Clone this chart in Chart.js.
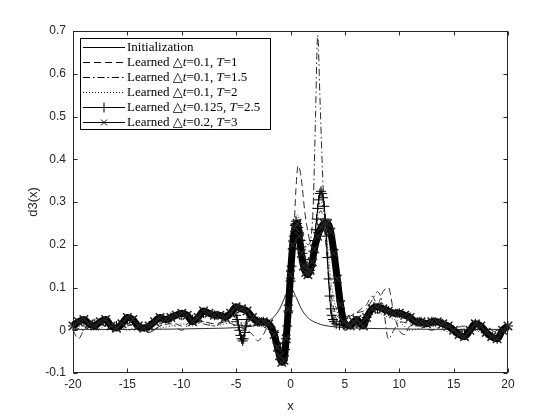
<!DOCTYPE html>
<html>
<head>
<meta charset="utf-8">
<script src="https://cdn.jsdelivr.net/npm/chart.js@4/dist/chart.umd.min.js"></script>
<style>
  body { margin: 0; background: #fff; }
</style>
</head>
<body>
<canvas id="d3Chart" width="560" height="420"></canvas>
<script>
// Values (d3(x) against x)
const xInit = [-20, -15, -10, -8, -6, -5, -4, -3, -2.5, -2, -1.5, -1, -0.5, 0, 0.5, 1, 1.5, 2, 2.5, 3, 4, 5, 6, 8, 10, 15, 20];
const yInit = [0.002, 0.002, 0.003, 0.004, 0.005, 0.006, 0.008, 0.012, 0.016, 0.022, 0.032, 0.05, 0.078, 0.1, 0.078, 0.05, 0.032, 0.022, 0.016, 0.012, 0.008, 0.006, 0.005, 0.004, 0.003, 0.002, 0.002];

// dashed, dt=0.1 T=1
const xT1 = [-20, -19.5, -19, -18, -17, -16, -15, -14, -13, -12, -11, -10, -9, -8, -7, -6, -5, -4, -3.5, -3,
  -2.5, -2, -1.5, -1, -0.6, -0.3, 0, 0.3, 0.5, 0.7, 0.9, 1.1, 1.3, 1.6, 1.9, 2.2, 2.5, 2.8, 3.1, 3.4,
  3.7, 4, 4.5, 5, 6, 6.5, 7, 7.5, 8, 8.5, 9, 9.5, 10, 10.5, 11, 12, 13, 14, 15, 16, 17, 18, 19, 20];
const yT1 = [0.0, -0.02, 0.0, 0.01, 0.015, 0.005, 0.01, 0.015, -0.005, 0.01, 0.02, 0.01, 0.02, 0.02, 0.015, 0.02, 0.01, 0.0, -0.01, -0.025,
  -0.01, 0.01, 0.01, -0.03, -0.06, -0.02, 0.08, 0.22, 0.33, 0.385, 0.37, 0.33, 0.28, 0.23, 0.2, 0.22, 0.26, 0.28, 0.24, 0.16,
  0.09, 0.05, 0.03, 0.03, 0.04, 0.05, 0.06, 0.08, 0.06, 0.09, 0.1, 0.04, 0.0, -0.01, 0.01, 0.01, 0.015, 0.01, 0.005, 0.01, 0.0, 0.005, -0.005, 0.01];

// dash-dot, dt=0.1 T=1.5
const xT15 = [-20, -19, -18, -17, -16, -15, -14, -13, -12, -11, -10, -9, -8, -7, -6, -5, -4, -3, -2, -1.5,
  -1, -0.5, 0, 0.5, 0.8, 1.2, 1.6, 1.9, 2.1, 2.3, 2.5, 2.7, 2.9, 3.1, 3.3, 3.5, 3.7, 4, 4.5, 5,
  6, 7, 7.5, 8, 8.5, 9, 9.5, 10, 11, 12, 13, 14, 15, 16, 17, 18, 19, 20];
const yT15 = [0.01, 0.0, 0.015, 0.01, 0.0, 0.015, 0.005, -0.005, 0.01, 0.015, 0.0, 0.02, 0.015, 0.01, 0.02, 0.02, 0.01, 0.015, 0.02, 0.0,
  -0.03, -0.02, 0.08, 0.22, 0.26, 0.22, 0.2, 0.22, 0.3, 0.5, 0.69, 0.55, 0.4, 0.28, 0.2, 0.12, 0.07, 0.04, 0.02, 0.03,
  0.04, 0.05, 0.07, 0.09, 0.06, -0.02, 0.0, 0.02, 0.015, 0.01, 0.0, 0.01, 0.0, 0.0, 0.005, -0.01, 0.0, 0.01];

// dotted, dt=0.1 T=2
const xT2 = [-20, -19, -18, -17, -16, -15, -14, -13, -12, -11, -10, -9, -8, -7, -6, -5, -4, -3, -2, -1,
  -0.5, 0, 0.3, 0.6, 0.9, 1.3, 1.7, 2.1, 2.5, 2.8, 3.1, 3.4, 3.7, 4, 4.5, 5, 6, 7, 8, 9,
  10, 11, 12, 13, 14, 15, 16, 17, 18, 19, 20];
const yT2 = [0.005, 0.01, 0.0, 0.01, 0.015, 0.0, 0.01, 0.0, 0.005, 0.01, 0.015, 0.01, 0.02, 0.01, 0.015, 0.02, 0.015, 0.01, 0.0, -0.04,
  -0.03, 0.07, 0.2, 0.27, 0.25, 0.18, 0.15, 0.2, 0.28, 0.3, 0.27, 0.2, 0.12, 0.07, 0.03, 0.02, 0.02, 0.03, 0.04, 0.03,
  0.02, 0.0, 0.005, 0.01, 0.0, -0.005, 0.005, 0.0, -0.01, 0.0, 0.005];

// '+' markers, dt=0.125 T=2.5
const xT25 = [-20, -19, -18, -17, -16, -15, -14, -13, -12, -11, -10, -9, -8, -7, -6, -5.5,
  -5, -4.9, -4.8, -4.7, -4.6, -4.5, -4.4, -4.3, -4.2, -4.1, -4, -3.5, -3, -2.5, -2, -1.5, -1.2,
  -1, -0.9, -0.8, -0.7, -0.6, -0.5, -0.4, -0.3, -0.2, -0.1,
  0, 0.1, 0.2, 0.3, 0.4, 0.5, 0.6, 0.7, 0.8, 0.9,
  1, 1.1, 1.2, 1.3, 1.4, 1.5, 1.6, 1.7, 1.8, 1.9,
  2, 2.1, 2.2, 2.3, 2.4, 2.5, 2.6, 2.7, 2.8, 2.9,
  3, 3.1, 3.2, 3.3, 3.4, 3.5, 3.6, 3.7, 3.8, 3.9,
  4, 4.2, 4.5, 5, 6, 7, 8, 9, 10, 11, 12, 13, 14, 15, 16, 17, 18, 19, 20];
const yT25 = [0.01, 0.02, 0.015, 0.02, 0.01, 0.025, 0.01, 0.01, 0.025, 0.03, 0.035, 0.025, 0.04, 0.035, 0.03, 0.04,
  0.035, 0.025, 0.012, 0.0, -0.012, -0.02, -0.025, -0.02, -0.005, 0.01, 0.025, 0.03, 0.02, 0.02, 0.012, -0.005, -0.03,
  -0.05, -0.06, -0.068, -0.07, -0.06, -0.045, -0.02, 0.01, 0.045, 0.08,
  0.115, 0.15, 0.19, 0.22, 0.245, 0.255, 0.25, 0.24, 0.225, 0.21,
  0.195, 0.18, 0.165, 0.155, 0.145, 0.14, 0.135, 0.135, 0.14, 0.15,
  0.165, 0.185, 0.21, 0.235, 0.26, 0.285, 0.305, 0.32, 0.325, 0.32,
  0.31, 0.29, 0.26, 0.22, 0.17, 0.12, 0.08, 0.05, 0.035, 0.025,
  0.02, 0.015, 0.012, 0.01, 0.02, 0.03, 0.05, 0.045, 0.04, 0.03, 0.02, 0.02, 0.015, 0.0, -0.01, 0.015, -0.005, -0.02, 0.01];

// 'x' markers, dt=0.2 T=3
const xT3 = [-20, -19.5, -19, -18.5, -18, -17.5, -17, -16.5, -16, -15.5,
  -15, -14.5, -14, -13.5, -13, -12.5, -12, -11.5, -11, -10.5,
  -10, -9.5, -9, -8.5, -8, -7.5, -7, -6.5, -6, -5.5,
  -5, -4.5, -4, -3.5, -3, -2.5, -2, -1.5,
  -1.2, -1, -0.8, -0.6, -0.4, -0.2, 0, 0.2, 0.4, 0.6, 0.8, 1, 1.2, 1.4, 1.6, 1.8, 2,
  2.2, 2.5, 2.8, 3.1, 3.4, 3.7, 4, 4.3, 4.6, 4.9, 5.2, 5.5, 5.8, 6.1, 6.4, 6.7, 7,
  7.5, 8, 8.5, 9, 9.5, 10, 10.5, 11, 11.5, 12,
  12.5, 13, 13.5, 14, 14.5, 15, 15.5, 16, 16.5, 17,
  17.5, 18, 18.5, 19, 19.5, 20];
const yT3 = [0.01, 0.02, 0.025, 0.015, 0.01, 0.02, 0.025, 0.01, 0.005, 0.015,
  0.03, 0.025, 0.01, 0.005, 0.01, 0.02, 0.03, 0.025, 0.03, 0.035,
  0.04, 0.035, 0.02, 0.03, 0.045, 0.04, 0.035, 0.035, 0.03, 0.04,
  0.055, 0.05, 0.045, 0.03, 0.02, 0.02, 0.015, -0.01,
  -0.04, -0.06, -0.075, -0.07, -0.02, 0.05, 0.13, 0.2, 0.24, 0.25, 0.22, 0.18, 0.15, 0.135, 0.13, 0.14, 0.16,
  0.19, 0.22, 0.24, 0.25, 0.25, 0.23, 0.18, 0.12, 0.06, 0.02, 0.012, 0.01, 0.02, 0.025, 0.015, 0.01, 0.03,
  0.05, 0.055, 0.05, 0.045, 0.04, 0.04, 0.035, 0.03, 0.02, 0.02,
  0.015, 0.02, 0.02, 0.015, 0.01, 0.0, -0.01, -0.015, 0.0, 0.015,
  0.01, -0.005, -0.015, -0.02, 0.0, 0.01];

const xTicks = [-20, -15, -10, -5, 0, 5, 10, 15, 20];
const yTicks = [-0.1, 0, 0.1, 0.2, 0.3, 0.4, 0.5, 0.6, 0.7];

// legend text pieces: [text, italic]
const legendLabels = [
  [["Initialization", false]],
  [["Learned \u25B3", false], ["t", true], ["=0.1, ", false], ["T", true], ["=1", false]],
  [["Learned \u25B3", false], ["t", true], ["=0.1, ", false], ["T", true], ["=1.5", false]],
  [["Learned \u25B3", false], ["t", true], ["=0.1, ", false], ["T", true], ["=2", false]],
  [["Learned \u25B3", false], ["t", true], ["=0.125, ", false], ["T", true], ["=2.5", false]],
  [["Learned \u25B3", false], ["t", true], ["=0.2, ", false], ["T", true], ["=3", false]]
];

const pts = (xs, ys) => xs.map((x, i) => ({ x: x, y: ys[i] }));
const AX = "#262626";

const dashes = [[], [7, 4], [7, 3, 1.5, 3], [1, 2], [], []];
const markers = [null, null, null, null, "cross", "crossRot"];

function thinLine(label, data, dash, order) {
  return {
    label: label,
    data: data,
    borderColor: "#2a2a2a",
    borderWidth: 1,
    borderDash: dash,
    pointRadius: 0,
    cubicInterpolationMode: "monotone",
    order: order
  };
}

// MATLAB-like frame, inward ticks, axis titles and legend
const matlabFrame = {
  id: "matlabFrame",
  afterDraw(chart) {
    const { ctx, chartArea: a, scales } = chart;
    const L = Math.round(a.left) + 0.5, R = Math.round(a.right) - 0.5;
    const T = Math.round(a.top) + 0.5, B = Math.round(a.bottom) - 0.5;
    ctx.save();
    ctx.strokeStyle = AX;
    ctx.lineWidth = 1;
    ctx.setLineDash([]);
    ctx.strokeRect(L, T, R - L, B - T);
    ctx.beginPath();
    xTicks.forEach((v) => {
      const px = Math.round(scales.x.getPixelForValue(v)) + 0.5;
      ctx.moveTo(px, B); ctx.lineTo(px, B - 4);
      ctx.moveTo(px, T); ctx.lineTo(px, T + 4);
    });
    yTicks.forEach((v) => {
      const py = Math.round(scales.y.getPixelForValue(v)) + 0.5;
      ctx.moveTo(L, py); ctx.lineTo(L + 4, py);
      ctx.moveTo(R, py); ctx.lineTo(R - 4, py);
    });
    ctx.stroke();

    // axis titles
    ctx.fillStyle = AX;
    ctx.font = '13px "Liberation Sans", Arial, sans-serif';
    ctx.textAlign = "center";
    ctx.textBaseline = "middle";
    ctx.fillText("x", (a.left + a.right) / 2, 406);
    ctx.save();
    ctx.translate(33, (a.top + a.bottom) / 2);
    ctx.rotate(-Math.PI / 2);
    ctx.fillText("d3(x)", 0, 0);
    ctx.restore();

    // legend box
    const bx = 80.5, by = 38.5, bw = 190, bh = 91;
    ctx.fillStyle = "#fff";
    ctx.fillRect(bx, by, bw, bh);
    ctx.strokeStyle = "#000";
    ctx.strokeRect(bx, by, bw, bh);
    legendLabels.forEach((parts, i) => {
      const y = Math.round(47 + i * 15) + 0.5;
      ctx.strokeStyle = "#000";
      ctx.lineWidth = 1;
      ctx.setLineDash(dashes[i]);
      ctx.beginPath();
      ctx.moveTo(83, y); ctx.lineTo(125, y);
      ctx.stroke();
      ctx.setLineDash([]);
      if (markers[i] === "cross") {
        ctx.beginPath();
        ctx.moveTo(99, y); ctx.lineTo(109, y);
        ctx.moveTo(104, y - 5); ctx.lineTo(104, y + 5);
        ctx.stroke();
      } else if (markers[i] === "crossRot") {
        ctx.beginPath();
        ctx.moveTo(101, y - 3); ctx.lineTo(107, y + 3);
        ctx.moveTo(101, y + 3); ctx.lineTo(107, y - 3);
        ctx.stroke();
      }
      let tx = 127;
      ctx.fillStyle = "#000";
      ctx.textAlign = "left";
      ctx.textBaseline = "middle";
      parts.forEach(([txt, it]) => {
        ctx.font = (it ? "italic " : "") + '13px "Liberation Serif", "DejaVu Serif", serif';
        ctx.fillText(txt, tx, y);
        tx += ctx.measureText(txt).width;
      });
    });
    ctx.restore();
  }
};

const tickFont = { family: '"Liberation Sans", Arial, sans-serif', size: 12 };

new Chart(document.getElementById("d3Chart").getContext("2d"), {
  type: "line",
  data: {
    datasets: [
      thinLine("Initialization", pts(xInit, yInit), [], 5),
      thinLine("Learned dt=0.1, T=1", pts(xT1, yT1), [7, 4], 4),
      thinLine("Learned dt=0.1, T=1.5", pts(xT15, yT15), [7, 3, 1.5, 3], 3),
      thinLine("Learned dt=0.1, T=2", pts(xT2, yT2), [1, 2], 2),
      {
        label: "Learned dt=0.125, T=2.5",
        data: pts(xT25, yT25),
        borderColor: "#000",
        borderWidth: 1,
        pointStyle: "cross",
        pointRadius: 5,
        pointBorderWidth: 1,
        pointBorderColor: "#000",
        cubicInterpolationMode: "monotone",
        clip: false,
        order: 1
      },
      {
        label: "Learned dt=0.2, T=3",
        data: pts(xT3, yT3),
        borderColor: "#000",
        borderWidth: 7,
        pointStyle: "crossRot",
        pointRadius: 6,
        pointBorderWidth: 1.5,
        pointBorderColor: "#222",
        cubicInterpolationMode: "monotone",
        clip: false,
        order: 0
      }
    ]
  },
  options: {
    responsive: false,
    animation: false,
    events: [],
    layout: { padding: { left: 0, top: 31, right: 52, bottom: 0 } },
    plugins: { legend: { display: false }, tooltip: { enabled: false } },
    scales: {
      x: {
        type: "linear",
        min: -20,
        max: 20,
        afterFit: (s) => { s.height = 47; },
        afterBuildTicks: (s) => { s.ticks = xTicks.map((v) => ({ value: v })); },
        grid: { display: false, drawTicks: false },
        border: { display: false },
        ticks: { font: tickFont, color: AX, padding: 4, maxRotation: 0 }
      },
      y: {
        type: "linear",
        min: -0.1,
        max: 0.7,
        afterFit: (s) => { s.width = 73; },
        afterBuildTicks: (s) => { s.ticks = yTicks.map((v) => ({ value: v })); },
        grid: { display: false, drawTicks: false },
        border: { display: false },
        ticks: { font: tickFont, color: AX, padding: 7 }
      }
    }
  },
  plugins: [matlabFrame]
});
</script>
</body>
</html>
